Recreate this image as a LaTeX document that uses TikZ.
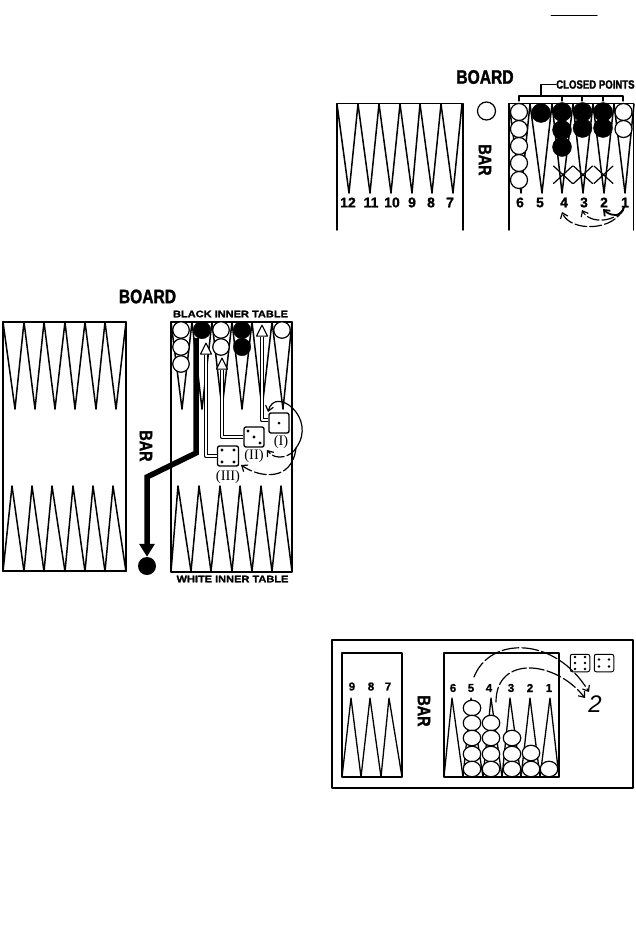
\documentclass[tikz,border=0pt]{standalone}
\usepackage{fontspec}
\setmainfont{Liberation Serif}
\setsansfont[BoldFeatures={FakeBold=1}]{Liberation Sans}
\newfontfamily\boardfont[FakeStretch=0.8,BoldFeatures={FakeBold=1.5}]{Liberation Sans}
\newfontfamily\tablefont[FakeStretch=1.16,BoldFeatures={FakeBold=1.5}]{Liberation Sans}
\usetikzlibrary{arrows.meta,shapes.geometric}

\begin{document}
\begin{tikzpicture}[x=1pt,y=-1pt,line cap=round,line join=round,
  wood/.style={line width=1.5pt},
  whitech/.style={circle,draw,fill=white,line width=1.2pt,inner sep=0pt,minimum size=17pt},
  blackch/.style={circle,draw,fill=black,inner sep=0pt,minimum size=19pt},
  flatch/.style={ellipse,draw,fill=white,line width=1.2pt,inner sep=0pt,minimum width=17.5pt,minimum height=15.5pt},
  num/.style={font=\sffamily\bfseries\fontsize{14}{14}\selectfont,inner sep=0pt},
  smallnum/.style={font=\sffamily\bfseries\fontsize{11.5}{12}\selectfont,inner sep=0pt},
  boardlabel/.style={font=\boardfont\bfseries\fontsize{19.5}{20}\selectfont,inner sep=0pt},
  barlabel/.style={font=\boardfont\bfseries\fontsize{18}{18}\selectfont,inner sep=0pt,rotate=-90},
  tablelabel/.style={font=\tablefont\bfseries\fontsize{9.5}{10}\selectfont,inner sep=0pt},
  dielabel/.style={font=\fontsize{14.5}{15}\selectfont,inner sep=0pt},
  die/.style={draw,rounded corners=2pt,fill=white,line width=1.4pt,inner sep=0pt,minimum width=20pt,minimum height=20pt},
  smalldie/.style={die,line width=1pt,minimum width=19.5pt,minimum height=17.5pt},
  pipe/.style={draw,double,double distance=2pt,line width=1.1pt,line cap=butt},
  hollowhead/.style={isosceles triangle,isosceles triangle apex angle=55,isosceles triangle stretches,
    shape border rotate=90,draw,fill=white,line width=1.1pt,inner sep=0pt,minimum width=11pt,minimum height=11pt,anchor=apex},
  move/.style={line width=1.2pt,-{Straight Barb[length=5pt,width=8pt]}},
  gapmove/.style={move,dash pattern=on 12pt off 3pt}]
\useasboundingbox (0,0) rectangle (635,950);
\draw[line width=1pt] (551,16) -- (597,16);

% board with the closed points
\node[boardlabel] (boardA) at (485,77) {BOARD};
\node[barlabel] (barA) at (485,160) {BAR};
\node[whitech,minimum size=18pt] (onbar) at (486.5,111) {};
\draw[wood] (337,230) -- (337,103.5) -- (463,103.5) -- (463,230);
\draw[wood] (509,230) -- (509,103.5) -- (633.5,103.5) -- (633.5,230);
\foreach \l/\a/\r in {337/349/358,358/370/379,379/391/400,400/412/420,420/432/441,441/453/462,
  509/521/530,530/542/552,552/562/573,573/583/593,593/604/614,614/625/634}{
  \draw[wood] (\l,104) -- (\a,193) -- (\r,104);
}
\foreach \t/\x in {12/348,11/371,10/392,9/412,8/431,7/450,6/520,5/540,4/564,3/584,2/604,1/625}{
  \node[num] (n\t) at (\x,202.5) {\t};
}
% checkers
\foreach \y in {112,129,146,163,180}{ \node[whitech] (six\y) at (519,\y) {}; }
\foreach \x/\y in {541/113,562/112,562/130,562/147,582.5/112,582.5/128,603/112,603/128}{
  \node[blackch] (b\x-\y) at (\x,\y) {};
}
\foreach \y in {112,129}{ \node[whitech] (ace\y) at (623.5,\y) {}; }
% crosses
\foreach \x in {563,583,603.5}{
  \draw[line width=1.2pt] (\x-9.5,166) -- (\x+9.5,183.5) (\x-9.5,183.5) -- (\x+9.5,166);
}
% bracket
\draw[line width=1.2pt] (519,101) -- (519,96) -- (623,96) -- (623,101);
\foreach \x in {562,582,603}{ \draw[line width=1.2pt] (\x,96) -- (\x,101); }
\node[font=\boardfont\bfseries\fontsize{12}{12}\selectfont,inner sep=0pt,anchor=west] (closed) at (556,84.5) {CLOSED POINTS};
\draw[line width=1.2pt] (541,96) -- (541,84.5) -- (closed.west);
% moves
\coordinate (fromA) at (624,207);
\coordinate (toTwo) at (603,209);
\coordinate (toThree) at (582,210);
\coordinate (toFour) at (562,212);
\draw[move,line width=1.8pt] (fromA) .. controls (622,218) and (610,216) .. (toTwo);
\draw[gapmove] (fromA) .. controls (618,222) and (590,225) .. (toThree);
\draw[gapmove] (fromA) .. controls (615,232) and (570,232) .. (toFour);

% board with the inner tables
\node[boardlabel] (boardB) at (147.5,296.5) {BOARD};
\node[barlabel] (barB) at (146,446) {BAR};
\node[tablelabel] (blacktable) at (230.5,314) {BLACK INNER TABLE};
\node[tablelabel] (whitetable) at (232.5,579) {WHITE INNER TABLE};
\draw[wood] (3,322) rectangle (126,571);
\draw[wood] (171,322) rectangle (292,572);
\foreach \l/\a/\r in {3/15/24,24/35/44,44/55/65,65/75/85,85/96/105,105/116/126,
  171/182/192,192/202/212,212/222/232,232/242/252,252/262/272,272/283/292}{
  \draw[wood] (\l,322) -- (\a,409) -- (\r,322);
}
\foreach \l/\a/\r in {3/12/24,24/32/44,44/52/65,65/73/85,85/93/105,105/113/126,
  171/178/191,191/199/211,211/220/232,232/240/252,252/261/272,272/281/292}{
  \draw[wood] (\l,571.5) -- (\a,486) -- (\r,571.5);
}
% the man sent to the bar
\node[circle,fill=black,inner sep=0pt,minimum size=18pt] (hit) at (147,566) {};
\coordinate (hitstart) at (196,338);
\coordinate (hitbendA) at (196,453);
\coordinate (hitbendB) at (147,477);
\draw[line width=5.5pt,line cap=butt,line join=miter,-{Triangle[length=13pt,width=15pt]}] (hitstart) -- (hitbendA) -- (hitbendB) -- (hit);
% checkers
\foreach \y in {330,347,364}{ \node[whitech,minimum size=16.5pt] (w\y) at (181,\y) {}; }
\foreach \x/\y in {221/330,221/347,282/330}{ \node[whitech,minimum size=16.5pt] (w\x-\y) at (\x,\y) {}; }
\foreach \x/\y in {202/330,242/330,242/347}{ \node[blackch,minimum size=17.5pt] (k\x-\y) at (\x,\y) {}; }
% dice and their pipes
\node[die] (dieI) at (279,423) {};
\node[die] (dieII) at (254,437) {};
\node[die,minimum width=21pt] (dieIII) at (228,456) {};
\node[hollowhead] (headI) at (262,324) {};
\node[hollowhead] (headII) at (222,357) {};
\node[hollowhead] (headIII) at (206,342) {};
\draw[pipe] ([yshift=3pt]dieI.west) -| (headI.lower side);
\draw[pipe] (dieII.west) -| (headII.lower side);
\draw[pipe] (dieIII.west) -| (headIII.lower side);
\fill (dieI.center) circle (1.5);
\foreach \dx in {-6,0,6}{ \fill ([shift={(\dx,\dx)}]dieII.center) circle (1.6); }
\foreach \dx/\dy in {-6/-6,6/-6,-6/6,6/6}{ \fill ([shift={(\dx,\dy)}]dieIII.center) circle (1.6); }
\node[dielabel] (lblI) at (281,442) {(I)};
\node[dielabel] (lblII) at (254,456) {(II)};
\node[dielabel] (lblIII) at (228,477) {(III)};
% moves
\coordinate (fromB) at (296,448);
\coordinate (backI) at (268,412);
\coordinate (backII) at (267,450);
\coordinate (backIII) at (241,465);
\draw[move] (fromB) .. controls (318,418) and (275,385) .. (backI);
\draw[gapmove] (fromB) .. controls (292,456) and (276,462) .. (backII);
\draw[gapmove] (fromB) .. controls (292,482) and (260,478) .. (backIII);

% bearing off board
\draw[line width=1.2pt] (332,640) rectangle (633,788);
\node[barlabel] (barC) at (424,711) {BAR};
\draw[wood] (342,653) rectangle (402,777);
\draw[wood] (444,653) rectangle (559,777);
\foreach \l/\a/\r in {342/351/361,361/370/381,381/389/402,
  444/452/463,463/471/483,483/491/502,502/510/521,521/530/540,540/550/559}{
  \draw[line width=1.3pt] (\l,777) -- (\a,698) -- (\r,777);
}
\foreach \t/\x in {9/352,8/371,7/388}{ \node[smallnum] (m\t) at (\x,686.5) {\t}; }
\foreach \t/\x in {6/453,5/471,4/489,3/511,2/530,1/549}{ \node[smallnum] (p\t) at (\x,688) {\t}; }
\foreach \x/\y in {472/708,472/723,472/738,472/754,472/769,491/723,491/738,491/754,491/769,
  512/738,512/754,512/769,531/753,531/769,549/769}{
  \node[flatch] (f\x-\y) at (\x,\y) {};
}
\node[smalldie] (sixes) at (580,663) {};
\node[smalldie] (fours) at (604,663) {};
\foreach \dx in {-5,5}{ \foreach \dy in {-6,0,6}{ \fill ([shift={(\dx,\dy)}]sixes.center) circle (1.3); } }
\foreach \dx/\dy in {-5/-3.5,5/-3.5,-5/3.5,5/3.5}{ \fill ([shift={(\dx,\dy)}]fours.center) circle (1.3); }
\coordinate (fromFive) at (474,677);
\coordinate (offFive) at (589,692);
\coordinate (fromFour) at (496,702);
\coordinate (offFour) at (585,698);
\draw[gapmove,dash pattern=on 17pt off 3pt] (fromFive) .. controls (490,636) and (555,636) .. (offFive);
\draw[gapmove,dash pattern=on 15pt off 3pt] (fromFour) .. controls (496,655) and (555,660) .. (offFour);
\node[font=\sffamily\itshape\fontsize{24}{24}\selectfont,inner sep=0pt] (off) at (595,704) {2};
\end{tikzpicture}
\end{document}
